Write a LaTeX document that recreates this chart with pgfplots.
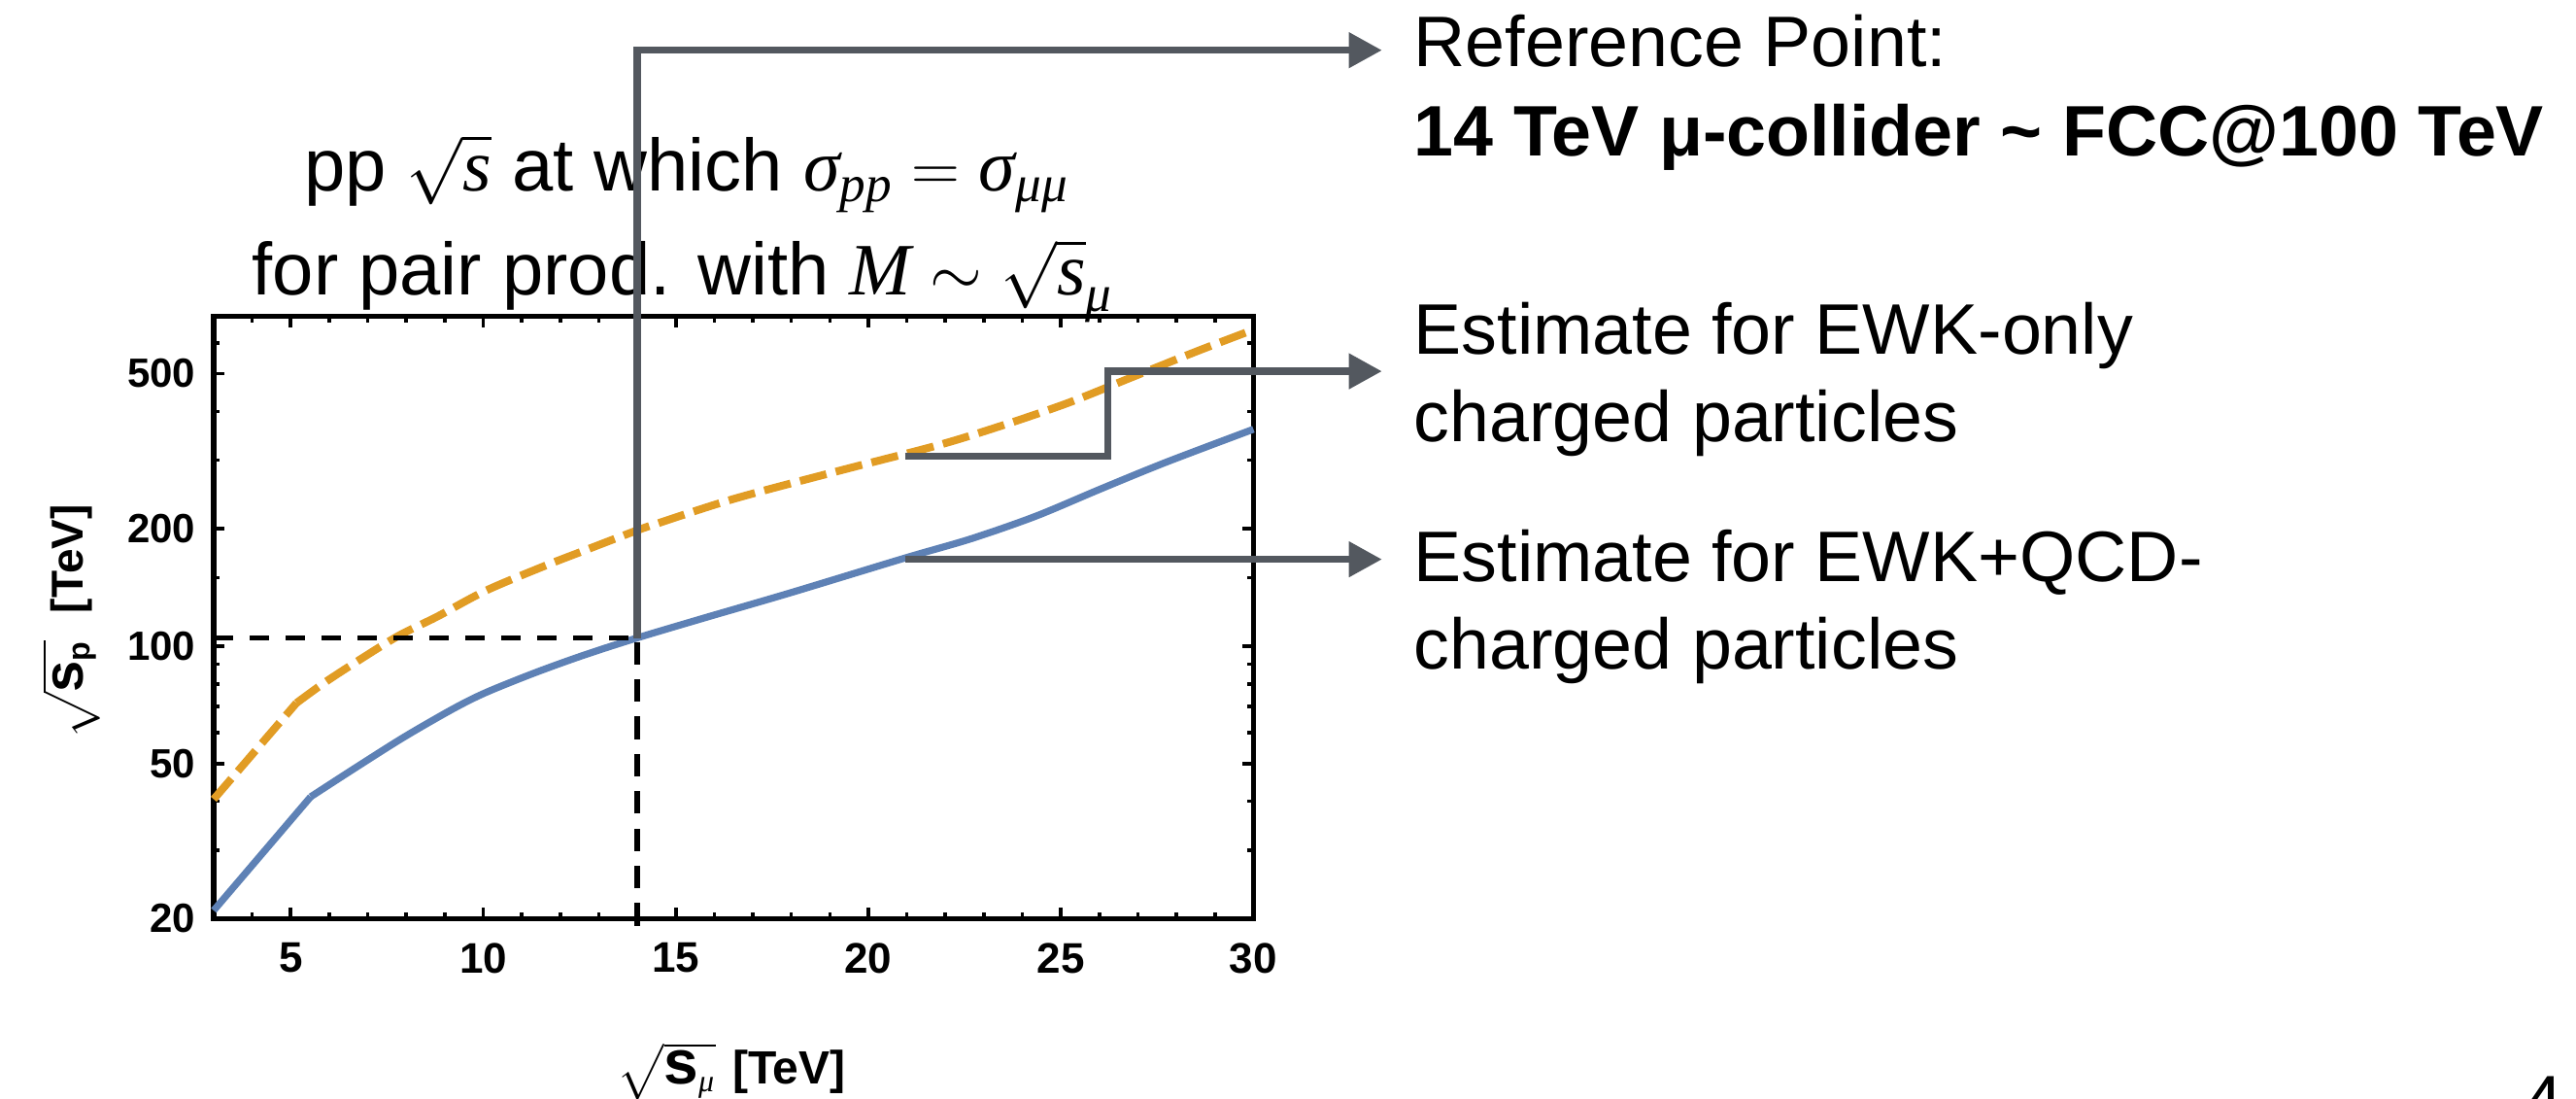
\documentclass[border=0pt]{standalone}
\usepackage{fontspec}
\setmainfont{Liberation Sans}
\newfontfamily\tmfam{Liberation Serif}
\usepackage{amsmath}
\usepackage{pgfplots}
\pgfplotsset{compat=1.18}
\usetikzlibrary{arrows.meta}

\definecolor{mblue}{rgb}{0.368417,0.506779,0.709798}
\definecolor{morange}{rgb}{0.880722,0.611041,0.142051}
\definecolor{arrgray}{HTML}{53585F}

\newcommand{\ti}[1]{\text{\tmfam\mdseries\itshape #1}}

\begin{document}
\begin{tikzpicture}
\path[use as bounding box] (0,0) rectangle (663pt,282.75pt);
% 1 unit = 1 pixel of the 2652x1131 reference, y from the bottom
\begin{scope}[x=0.25pt,y=0.25pt]
% plot title (two lines)
\node[anchor=base,inner sep=0pt,font=\fontsize{19}{21}\selectfont] at (707,934.3)
  {pp $\sqrt{\ti{s}}$ at which $\ti{σ}_{\ti{pp}}=\ti{σ}_{\ti{μμ}}$};
\node[anchor=base,inner sep=0pt,font=\fontsize{19}{21}\selectfont] at (703,827)
  {for pair prod. with $\ti{M}\sim\sqrt{\ti{s}}_{\ti{μ}}$};
\end{scope}

\begin{axis}[
  at={(55pt,46.375pt)}, anchor=south west,
  scale only axis, width=267.6pt, height=154.9pt,
  xmin=3, xmax=30, ymode=log, ymin=20, ymax=700,
  xtick={5,10,15,20,25,30}, xticklabels={5,10,15,20,25,30},
  minor xtick={4,6,7,8,9,11,12,13,14,16,17,18,19,21,22,23,24,26,27,28,29},
  ytick={20,50,100,200,500}, yticklabels={20,50,100,200,500},
  minor ytick={30,40,60,70,80,90,150,300,400,600},
  tick align=inside, major tick length=2.8pt, minor tick length=1.5pt,
  tick style={black, line width=0.9pt},
  axis line style={line width=1.3pt},
  x tick label style={font=\fontsize{11}{12}\selectfont\bfseries, inner sep=0pt, yshift=-6pt},
  y tick label style={font=\fontsize{10.5}{12}\selectfont\bfseries, inner sep=0pt, xshift=-4.5pt},
  clip=false,
]
% EWK+QCD: straight piece up to the kink, then smooth
\addplot[mblue, line width=1.8pt] coordinates {(3,21.0) (5.52,41.1)};
\addplot[mblue, line width=1.8pt, smooth, tension=0.5] coordinates {
  (5.52,41.1) (6.70,48.9) (7.96,58.6) (9.22,69.1) (10.06,76.0) (11.32,85.3)
  (12.58,94.6) (13.97,104.8) (15.76,118.3) (17.95,136.8) (20.95,168.3)
  (22.67,188.6) (24.35,215.5) (26.03,253) (27.72,296) (30,360)};
% EWK only
\addplot[morange, line width=2pt, dash pattern=on 7pt off 2.5pt] coordinates {
  (3,40.5) (5.15,71.5)};
\addplot[morange, line width=2pt, dash pattern=on 7pt off 2.5pt, smooth, tension=0.5] coordinates {
  (5.15,71.5) (5.86,80.4) (6.70,91.1) (7.79,106.2) (8.80,119) (10.06,138.7)
  (11.58,160.4) (12.58,175.2) (13.97,197.8) (14.6,207.6) (16.53,239)
  (19.26,282) (21.83,328) (23.51,369) (25.19,420.7) (26.88,491)
  (28.56,572) (30,648)};
% reference point guides
\addplot[black, line width=1.25pt, dash pattern=on 5pt off 4.25pt] coordinates {(3,104.8) (14,104.8)};
\addplot[black, line width=1.3pt, dash pattern=on 5.8pt off 3.8pt] coordinates {(14,19.2) (14,104.8)};

\coordinate (r1) at (axis cs:14,104.8);
\coordinate (e1) at (axis cs:20.95,307);
\coordinate (e2) at (axis cs:26.22,307);
\coordinate (e3) at (axis cs:26.22,507);
\coordinate (q1) at (axis cs:20.95,167);
\end{axis}

\begin{scope}[x=0.25pt,y=0.25pt]
% axis labels
\node[anchor=base,inner sep=0pt,font=\fontsize{12}{13}\selectfont\bfseries] at (753,15)
  {$\sqrt{\text{\fontsize{16}{17}\selectfont s}_{\ti{μ}}}$\hspace{0.35em}[TeV]};
\node[rotate=90,anchor=base,inner sep=0pt,font=\fontsize{11.5}{13}\selectfont\bfseries] at (85,491)
  {$\sqrt{\text{\fontsize{14.5}{16}\selectfont s}_{\text{p}}}$\hspace{0.6em}[TeV]};

% annotation arrows
\coordinate (topy) at (0,1079.3);
\coordinate (arrx) at (1422.7,0);
\begin{scope}[arrgray, line width=1.85pt, line join=miter]
\draw[-{Triangle[length=8.5pt,width=8.75pt]}] (r1) -- (r1 |- topy) -- (arrx |- topy);
\draw[-{Triangle[length=8.5pt,width=8.75pt]}] (e1) -- (e2) -- (e3) -- (e3 -| arrx);
\draw[-{Triangle[length=8.5pt,width=8.75pt]}] (q1) -- (q1 -| arrx);
\end{scope}

\begin{scope}[every node/.style={anchor=base west, inner sep=0pt, font=\fontsize{18.4}{20}\selectfont}]
\node at (1455,1062.1) {Reference Point:};
\node[font=\fontsize{18.4}{20}\selectfont\bfseries] at (1455,970.3) {14 TeV μ-collider \textasciitilde\ FCC@100 TeV};
\node at (1455,766) {Estimate for EWK-only};
\node at (1455,676.5) {charged particles};
\node at (1455,532) {Estimate for EWK+QCD-};
\node at (1455,442.3) {charged particles};
\end{scope}

% slide page number (cut off at the bottom)
\node[anchor=base west,inner sep=0pt,font=\fontsize{18}{20}\selectfont] at (2598,-27) {4};
\end{scope}
\end{tikzpicture}
\end{document}
